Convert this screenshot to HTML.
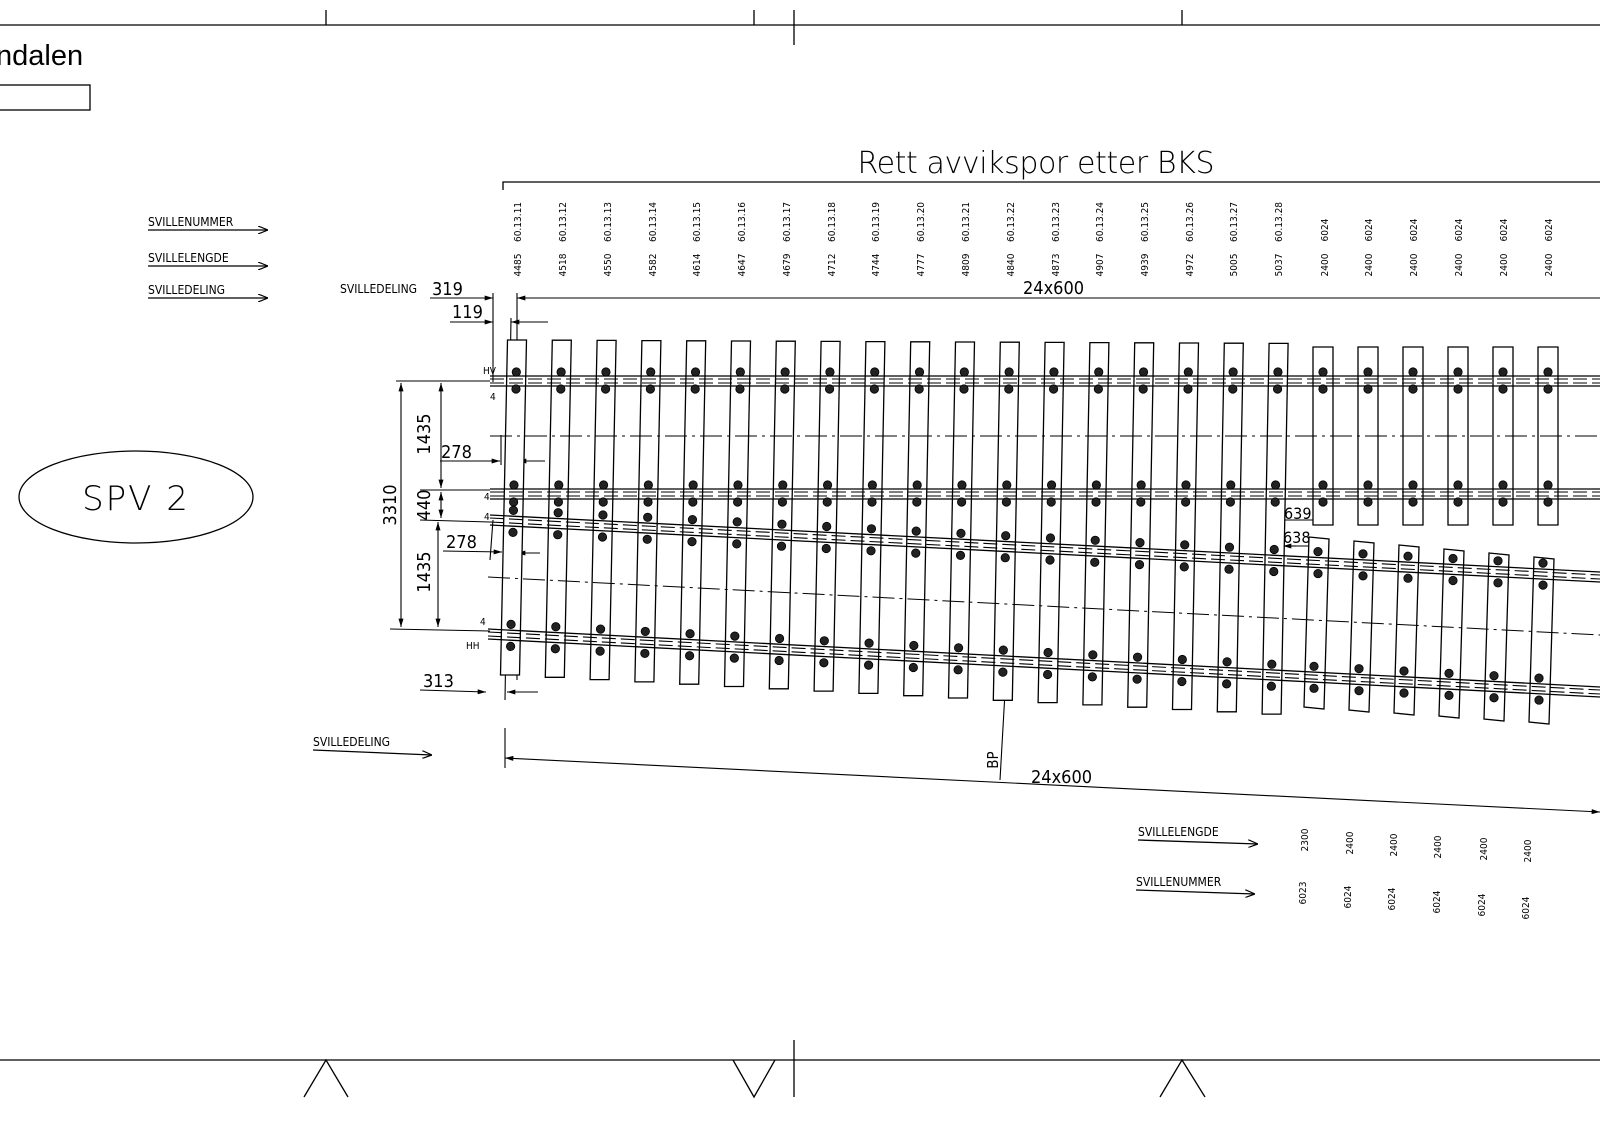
<!DOCTYPE html>
<html><head><meta charset="utf-8"><style>
html,body{margin:0;padding:0;background:#fff;}
svg{display:block;font-family:"DejaVu Sans Condensed","Liberation Sans",sans-serif;}
.t{font-family:"Liberation Sans",sans-serif;}
.th{font-family:"DejaVu Sans ExtraLight","DejaVu Sans","Liberation Sans",sans-serif;}
</style></head><body>
<svg id="s" width="1600" height="1131" viewBox="0 0 1600 1131" xmlns="http://www.w3.org/2000/svg" stroke="#000" fill="none" stroke-width="1.3">
<defs><marker id="a" viewBox="0 0 10 6" refX="10" refY="3" markerWidth="12" markerHeight="5" orient="auto-start-reverse" markerUnits="userSpaceOnUse"><path d="M0,0L10,3L0,6z" fill="#000" stroke="none"/></marker>
<marker id="o" viewBox="0 0 10 8" refX="10" refY="4" markerWidth="10" markerHeight="8" orient="auto" markerUnits="userSpaceOnUse"><path d="M0,0L10,4L0,8" fill="none" stroke="#000" stroke-width="1.2"/></marker></defs>
<line x1="0" y1="25" x2="1600" y2="25"/>
<line x1="326" y1="10" x2="326" y2="25"/><line x1="754" y1="10" x2="754" y2="25"/><line x1="794" y1="10" x2="794" y2="45"/><line x1="1182" y1="10" x2="1182" y2="25"/>
<text x="-4" y="65" class="t" font-size="29" fill="#000" stroke="none">ndalen</text>
<rect x="-2" y="85" width="92" height="25"/>
<line x1="0" y1="1060" x2="1600" y2="1060"/>
<line x1="794" y1="1040" x2="794" y2="1097"/>
<polyline points="304,1097 326,1060 348,1097"/><polyline points="733,1060 754,1097 775,1060"/><polyline points="1160,1097 1182,1060 1205,1097"/>
<text x="1036" y="173" class="th" font-size="30" fill="#000" stroke="none" text-anchor="middle" font-weight="200" textLength="357" lengthAdjust="spacing">Rett avvikspor etter BKS</text>
<polyline points="503,190 503,182 1600,182"/>
<g font-size="12" fill="#000" stroke="none">
<text x="148" y="226">SVILLENUMMER</text><text x="148" y="262">SVILLELENGDE</text><text x="148" y="294">SVILLEDELING</text>
<text x="340" y="293">SVILLEDELING</text><text x="313" y="746">SVILLEDELING</text>
<text x="1138" y="836">SVILLELENGDE</text><text x="1136" y="886">SVILLENUMMER</text>
<text x="483" y="374" font-size="10">HV</text><text x="466" y="649" font-size="10">HH</text>
<text x="490" y="400" font-size="10">4</text><text x="484" y="500" font-size="10">4</text><text x="484" y="520" font-size="10">4</text><text x="480" y="625" font-size="10">4</text>
</g>
<g marker-end="url(#o)"><line x1="148" y1="230" x2="268" y2="230"/><line x1="148" y1="266" x2="268" y2="266"/><line x1="148" y1="298" x2="268" y2="298"/><line x1="313" y1="750" x2="432" y2="755"/><line x1="1138" y1="840" x2="1258" y2="844"/><line x1="1136" y1="890" x2="1255" y2="894"/></g>
<ellipse cx="136" cy="497" rx="117" ry="46"/>
<text x="136" y="510" class="th" font-size="34" fill="#000" stroke="none" text-anchor="middle" font-weight="200" letter-spacing="2">SPV 2</text>
<g font-size="10" fill="#000" stroke="none" text-anchor="middle">
<text transform="translate(521,222) rotate(-90)">60.13.11</text><text transform="translate(566,222) rotate(-90)">60.13.12</text><text transform="translate(611,222) rotate(-90)">60.13.13</text><text transform="translate(656,222) rotate(-90)">60.13.14</text><text transform="translate(700,222) rotate(-90)">60.13.15</text><text transform="translate(745,222) rotate(-90)">60.13.16</text><text transform="translate(790,222) rotate(-90)">60.13.17</text><text transform="translate(835,222) rotate(-90)">60.13.18</text><text transform="translate(879,222) rotate(-90)">60.13.19</text><text transform="translate(924,222) rotate(-90)">60.13.20</text><text transform="translate(969,222) rotate(-90)">60.13.21</text><text transform="translate(1014,222) rotate(-90)">60.13.22</text><text transform="translate(1059,222) rotate(-90)">60.13.23</text><text transform="translate(1103,222) rotate(-90)">60.13.24</text><text transform="translate(1148,222) rotate(-90)">60.13.25</text><text transform="translate(1193,222) rotate(-90)">60.13.26</text><text transform="translate(1237,222) rotate(-90)">60.13.27</text><text transform="translate(1282,222) rotate(-90)">60.13.28</text>
<text transform="translate(1328,230) rotate(-90)">6024</text><text transform="translate(1372,230) rotate(-90)">6024</text><text transform="translate(1417,230) rotate(-90)">6024</text><text transform="translate(1462,230) rotate(-90)">6024</text><text transform="translate(1507,230) rotate(-90)">6024</text><text transform="translate(1552,230) rotate(-90)">6024</text>
<text transform="translate(521,265) rotate(-90)">4485</text><text transform="translate(566,265) rotate(-90)">4518</text><text transform="translate(611,265) rotate(-90)">4550</text><text transform="translate(656,265) rotate(-90)">4582</text><text transform="translate(700,265) rotate(-90)">4614</text><text transform="translate(745,265) rotate(-90)">4647</text><text transform="translate(790,265) rotate(-90)">4679</text><text transform="translate(835,265) rotate(-90)">4712</text><text transform="translate(879,265) rotate(-90)">4744</text><text transform="translate(924,265) rotate(-90)">4777</text><text transform="translate(969,265) rotate(-90)">4809</text><text transform="translate(1014,265) rotate(-90)">4840</text><text transform="translate(1059,265) rotate(-90)">4873</text><text transform="translate(1103,265) rotate(-90)">4907</text><text transform="translate(1148,265) rotate(-90)">4939</text><text transform="translate(1193,265) rotate(-90)">4972</text><text transform="translate(1237,265) rotate(-90)">5005</text><text transform="translate(1282,265) rotate(-90)">5037</text>
<text transform="translate(1328,265) rotate(-90)">2400</text><text transform="translate(1372,265) rotate(-90)">2400</text><text transform="translate(1417,265) rotate(-90)">2400</text><text transform="translate(1462,265) rotate(-90)">2400</text><text transform="translate(1507,265) rotate(-90)">2400</text><text transform="translate(1552,265) rotate(-90)">2400</text>
<text transform="translate(1308,840) rotate(-90)">2300</text><text transform="translate(1353,843) rotate(-90)">2400</text><text transform="translate(1397,845) rotate(-90)">2400</text><text transform="translate(1441,847) rotate(-90)">2400</text><text transform="translate(1487,849) rotate(-90)">2400</text><text transform="translate(1531,851) rotate(-90)">2400</text>
<text transform="translate(1306,893) rotate(-90)">6023</text><text transform="translate(1351,897) rotate(-90)">6024</text><text transform="translate(1395,899) rotate(-90)">6024</text><text transform="translate(1440,902) rotate(-90)">6024</text><text transform="translate(1485,905) rotate(-90)">6024</text><text transform="translate(1529,908) rotate(-90)">6024</text>
</g>
<g font-size="18" fill="#000" stroke="none">
<text x="432" y="295">319</text><text x="452" y="318">119</text><text x="1023" y="294">24x600</text>
<text x="441" y="458">278</text><text x="446" y="548">278</text><text x="423" y="687">313</text>
<text x="1031" y="783">24x600</text><text x="1284" y="519" font-size="16">639</text><text x="1283" y="543" font-size="16">638</text>
<text transform="translate(430,434) rotate(-90)" text-anchor="middle">1435</text>
<text transform="translate(430,505) rotate(-90)" text-anchor="middle">440</text>
<text transform="translate(430,572) rotate(-90)" text-anchor="middle">1435</text>
<text transform="translate(396,505) rotate(-90)" text-anchor="middle">3310</text>
<text transform="translate(998,760) rotate(-90)" text-anchor="middle" font-size="15">BP</text>
</g>
<g stroke-width="1.1">
<line x1="430" y1="298" x2="493" y2="298" marker-end="url(#a)"/><line x1="1600" y1="298" x2="517" y2="298" marker-end="url(#a)"/>
<line x1="450" y1="322" x2="493" y2="322" marker-end="url(#a)"/><line x1="548" y1="322" x2="511" y2="322" marker-end="url(#a)"/>
<line x1="493" y1="293" x2="493" y2="382"/><line x1="517" y1="293" x2="517" y2="680"/><line x1="511" y1="318" x2="505" y2="700"/>
<line x1="396" y1="381" x2="490" y2="381"/><line x1="420" y1="490" x2="490" y2="490"/><line x1="420" y1="520" x2="490" y2="522"/><line x1="390" y1="629" x2="490" y2="631"/>
<line x1="401" y1="383" x2="401" y2="627" marker-start="url(#a)" marker-end="url(#a)"/>
<line x1="441" y1="383" x2="441" y2="488" marker-start="url(#a)" marker-end="url(#a)"/>
<line x1="441" y1="492" x2="441" y2="518" marker-start="url(#a)" marker-end="url(#a)"/>
<line x1="438" y1="522" x2="438" y2="627" marker-start="url(#a)" marker-end="url(#a)"/>
<line x1="440" y1="461" x2="500" y2="461" marker-end="url(#a)"/><line x1="545" y1="461" x2="518" y2="461" marker-end="url(#a)"/>
<line x1="443" y1="551" x2="502" y2="552" marker-end="url(#a)"/><line x1="540" y1="553" x2="517" y2="553" marker-end="url(#a)"/>
<line x1="420" y1="690" x2="486" y2="692" marker-end="url(#a)"/><line x1="538" y1="692" x2="507" y2="692" marker-end="url(#a)"/>
<line x1="501" y1="435" x2="501" y2="465"/><line x1="493" y1="520" x2="490" y2="560"/>
<line x1="505" y1="728" x2="505" y2="768"/>
<line x1="505" y1="758" x2="1600" y2="812" marker-start="url(#a)" marker-end="url(#a)"/>
<line x1="1000" y1="780" x2="1013" y2="552" marker-end="url(#a)"/>
<line x1="1276" y1="500" x2="1276" y2="523"/><line x1="1321" y1="505" x2="1321" y2="523"/><line x1="1276" y1="520" x2="1321" y2="520" marker-start="url(#a)" marker-end="url(#a)"/>
<line x1="1283" y1="546" x2="1323" y2="546" marker-end="url(#a)"/><line x1="1296" y1="546" x2="1283" y2="546" marker-end="url(#a)"/>
</g>
<g id="g"></g>
</svg>
<script>
var g=document.getElementById('g'),N='http://www.w3.org/2000/svg';
function el(t,a){var e=document.createElementNS(N,t);for(var k in a)e.setAttribute(k,a[k]);g.appendChild(e);return e;}
function poly(p){el('polygon',{points:p.map(function(q){return q.join(',')}).join(' '),fill:'#fff'});}
for(var i=0;i<18;i++){var cx=517+44.8*i,by=675+2.3*i,w=9.5,sh=-7;
poly([[cx-w,340+i*0.2],[cx+w,340+i*0.2],[cx+w+sh,by],[cx-w+sh,by]]);}
for(var j=0;j<6;j++){var cx=1323+45*j;poly([[cx-10,347],[cx+10,347],[cx+10,525],[cx-10,525]]);
var tx=1319+45*j,ty=537+4*j;poly([[tx-10,ty],[tx+10,ty+2],[tx+5,709+3*j],[tx-15,707+3*j]]);}
function rail(x1,y1,x2,y2){[-5,5].forEach(function(d){el('line',{x1:x1,y1:y1+d,x2:x2,y2:y2+d,'stroke-width':1.3});});
[-2,2].forEach(function(d){el('line',{x1:x1,y1:y1+d,x2:x2,y2:y2+d,'stroke-width':1.1,'stroke-dasharray':'14,5'});});}
rail(490,381,1600,381);rail(490,494,1600,494);rail(490,520,1600,577);rail(488,634,1600,692);
el('line',{x1:490,y1:436,x2:1600,y2:436,'stroke-dasharray':'22,5,3,5','stroke-width':1});
el('line',{x1:488,y1:577,x2:1600,y2:635,'stroke-dasharray':'22,5,3,5','stroke-width':1});
function f(x,y){el('circle',{cx:x,cy:y,r:4.2,fill:'#222','stroke-width':0.8});}
for(var i=0;i<18;i++){var cx=517+44.8*i;var dx=function(y){return -7*(y-340)/(335)};
[372,389,485,502].forEach(function(y){f(cx+dx(y),y);});
var y1=520+57*(cx-490)/1110,y2=634+58*(cx-490)/1110;[y1-11,y1+11,y2-11,y2+11].forEach(function(y){f(cx+dx(y),y);});}
for(var j=0;j<6;j++){var cx=1323+45*j;[372,389,485,502].forEach(function(y){f(cx,y);});
var tx=1319+45*j;var y1=520+57*(tx-490)/1110,y2=634+58*(tx-490)/1110;[y1-11,y1+11].forEach(function(y){f(tx-1,y)});[y2-11,y2+11].forEach(function(y){f(tx-5,y)});}
</script>
</body></html>
